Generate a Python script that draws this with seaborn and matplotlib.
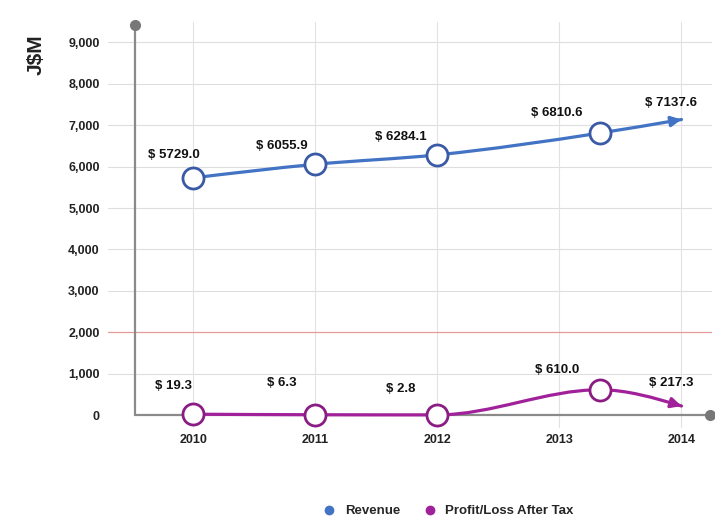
import numpy as np
import pandas as pd
import matplotlib
matplotlib.use("Agg")
import matplotlib.pyplot as plt
from matplotlib.path import Path
from matplotlib.patches import PathPatch
from matplotlib.lines import Line2D
import seaborn as sns

# values
years = ["2010", "2011", "2012", "2013", "2014"]
tick_x = [2010, 2011, 2012, 2013, 2014]
point_x = [2010, 2011, 2012, 2013.33, 2014]   # 2013 point sits right of its tick
revenue = [5729.0, 6055.9, 6284.1, 6810.6, 7137.6]
profit = [19.3, 6.3, 2.8, 610.0, 217.3]
series_names = ["Revenue", "Profit/Loss After Tax"]

rev_color = "#4273c4"
rev_edge = "#3a5aa6"
pro_color = "#a0219a"
pro_edge = "#8a1c84"

sns.set_style("white")
plt.rcParams["font.family"] = ["Liberation Sans", "DejaVu Sans"]

fig = plt.figure(figsize=(7.15, 5.17), dpi=100)
ax = fig.add_axes([108 / 715, 1 - 428 / 517, (712 - 108) / 715, (428 - 22) / 517])
ax.set_xlim(2009.3, 2014.25)
ax.set_ylim(-314, 9493)


def monotone_path(xs, ys):
    # monotone cubic (d3 curveMonotoneX style) as bezier segments
    xs = np.asarray(xs, float)
    ys = np.asarray(ys, float)
    h = np.diff(xs)
    s = np.diff(ys) / h
    n = len(xs)
    t = np.zeros(n)
    for i in range(1, n - 1):
        p = (s[i - 1] * h[i] + s[i] * h[i - 1]) / (h[i - 1] + h[i])
        t[i] = (np.sign(s[i - 1]) + np.sign(s[i])) * min(abs(s[i - 1]), abs(s[i]), 0.5 * abs(p))
    t[0] = (3 * s[0] - t[1]) / 2
    t[-1] = (3 * s[-1] - t[-2]) / 2
    verts = [(xs[0], ys[0])]
    codes = [Path.MOVETO]
    for i in range(n - 1):
        d = h[i] / 3
        verts += [(xs[i] + d, ys[i] + t[i] * d), (xs[i + 1] - d, ys[i + 1] - t[i + 1] * d), (xs[i + 1], ys[i + 1])]
        codes += [Path.CURVE4] * 3
    return Path(verts, codes), t[-1]


# grid
for yv in range(0, 9001, 1000):
    if yv == 2000:
        ax.axhline(yv, color="#e59a9a", lw=0.9, zorder=1)
    elif yv > 0:
        ax.axhline(yv, color="#dedede", lw=0.8, zorder=0)
for xv in tick_x:
    ax.axvline(xv, color="#e2e2e2", lw=0.8, zorder=0)

# axis lines with end dots
ax.plot([2009.52, 2009.52], [0, 9420], color="#8a8a8a", lw=1.6, zorder=2, clip_on=False)
ax.plot([2009.52, 2014.23], [0, 0], color="#8a8a8a", lw=1.6, zorder=2, clip_on=False)
ax.plot([2009.52], [9420], "o", color="#777777", ms=7, zorder=3, clip_on=False)
ax.plot([2014.23], [0], "o", color="#777777", ms=7, zorder=3, clip_on=False)

label_dx = [-20, -34, -37, -43, -10]
label_dy_rev = [23, 18, 18, 20, 17]
label_dy_pro = [28, 32, 26, 20, 23]

for vals, col, edge, dys in [(revenue, rev_color, rev_edge, label_dy_rev),
                             (profit, pro_color, pro_edge, label_dy_pro)]:
    path, end_slope = monotone_path(point_x, vals)
    ax.add_patch(PathPatch(path, facecolor="none", edgecolor=col, lw=2.3, zorder=4, capstyle="round"))
    # arrow head at the last point
    step = 0.06
    ax.annotate("", xy=(point_x[-1], vals[-1]),
                xytext=(point_x[-1] - step, vals[-1] - end_slope * step),
                arrowprops=dict(arrowstyle="-|>", color=col, lw=2.3, mutation_scale=15,
                                shrinkA=0, shrinkB=0), zorder=5)
    sns.scatterplot(x=point_x[:4], y=vals[:4], ax=ax, s=230, color="white",
                    edgecolor=edge, linewidth=2.0, zorder=6)
    for i, v in enumerate(vals):
        ax.annotate(f"$ {v:.1f}", (point_x[i], v), xytext=(label_dx[i] * 0.72, dys[i] * 0.72),
                    textcoords="offset points", ha="center", va="center",
                    fontsize=9.5, fontweight="bold", color="#111111", zorder=7)

ax.set_xticks(tick_x)
ax.set_xticklabels(years, fontsize=9, fontweight="bold", color="#222222")
ax.set_yticks(range(0, 9001, 1000))
ax.set_yticklabels([f"{v:,}" for v in range(0, 9001, 1000)], fontsize=9,
                   fontweight="bold", color="#222222")
ax.tick_params(axis="both", length=0)
ax.tick_params(axis="y", pad=6)
ax.tick_params(axis="x", pad=4)
for sp in ax.spines.values():
    sp.set_visible(False)
ax.set_xlabel("")
ax.set_ylabel("")

fig.text(36 / 715, 1 - 55 / 517, "J$M", rotation=90, ha="center", va="center",
         fontsize=15, fontweight="bold", color="#222222")

handles = [Line2D([], [], marker="o", ls="", color=rev_color, ms=6),
           Line2D([], [], marker="o", ls="", color=pro_color, ms=6)]
fig.legend(handles, series_names, loc="center", bbox_to_anchor=(445 / 715, 1 - 511 / 517),
           ncol=2, frameon=False, prop={"size": 9.5, "weight": "bold"},
           handletextpad=0.2, columnspacing=1.2, borderpad=0)

fig.savefig("out.png", dpi=100)
